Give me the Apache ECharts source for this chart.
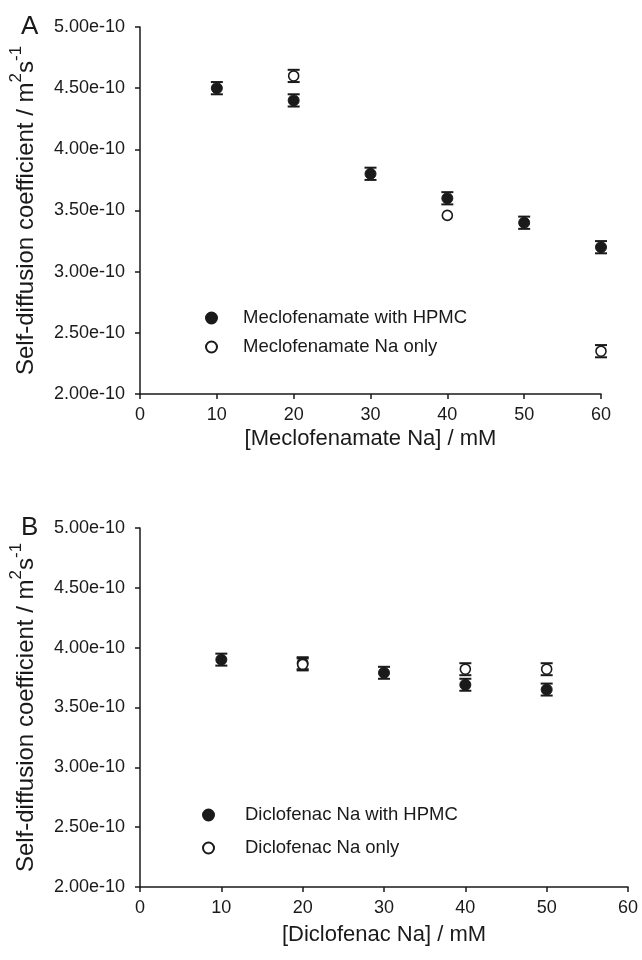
<!DOCTYPE html>
<html>
<head>
<meta charset="utf-8">
<script src="https://cdn.jsdelivr.net/npm/echarts@6/dist/echarts.min.js"></script>
<style>
html,body{margin:0;padding:0;background:#fff;}
#chart{width:642px;height:960px;}
</style>
</head>
<body>
<div id="chart"></div>
<script>
// Values in units of 1e-10 m^2 s^-1
const concA = [10, 20, 30, 40, 50, 60];
const meclofenamateHPMC = [4.50, 4.40, 3.80, 3.60, 3.40, 3.20];
const meclofenamateHPMCErr = [0.05, 0.05, 0.05, 0.05, 0.05, 0.05];
const concAOnly = [20, 40, 60];
const meclofenamateOnly = [4.60, 3.46, 2.35];
const meclofenamateOnlyErr = [0.05, 0, 0.05];

const concB = [10, 20, 30, 40, 50];
const diclofenacHPMC = [3.90, 3.87, 3.79, 3.69, 3.65];
const diclofenacHPMCErr = [0.05, 0.05, 0.05, 0.05, 0.05];
const concBOnly = [20, 40, 50];
const diclofenacOnly = [3.86, 3.82, 3.82];
const diclofenacOnlyErr = [0.05, 0.05, 0.05];

const yTicks = [2.0, 2.5, 3.0, 3.5, 4.0, 4.5, 5.0];
const xTicks = [0, 10, 20, 30, 40, 50, 60];

const FONT = '"Liberation Sans", Arial, Helvetica, sans-serif';
const INK = '#1a1a1a';

function pts(xs, ys) { return xs.map((x, i) => [x, ys[i]]); }
function errPts(xs, ys, es) { return xs.map((x, i) => [x, ys[i], es[i]]); }

function errorSeries(idx, data) {
  return {
    type: 'custom', xAxisIndex: idx, yAxisIndex: idx, silent: true, z: 2,
    data: data,
    renderItem: function (params, api) {
      const x = api.value(0), y = api.value(1), e = api.value(2);
      if (!e) return null;
      const top = api.coord([x, y + e]);
      const bot = api.coord([x, y - e]);
      const hw = 6;
      const st = { stroke: INK, lineWidth: 2 };
      return {
        type: 'group',
        children: [
          { type: 'line', shape: { x1: top[0], y1: top[1], x2: bot[0], y2: bot[1] }, style: { stroke: INK, lineWidth: 1.5 } },
          { type: 'line', shape: { x1: top[0] - hw, y1: top[1], x2: top[0] + hw, y2: top[1] }, style: st },
          { type: 'line', shape: { x1: bot[0] - hw, y1: bot[1], x2: bot[0] + hw, y2: bot[1] }, style: st }
        ]
      };
    }
  };
}

function xAxisCfg(idx, name, gap) {
  return {
    type: 'value', gridIndex: idx, min: 0, max: 60, interval: 10,
    name: name, nameLocation: 'middle', nameGap: gap,
    nameTextStyle: { fontFamily: FONT, fontSize: 22, color: INK },
    axisLine: { onZero: false, lineStyle: { color: INK, width: 1.5 } },
    axisTick: { show: true, inside: false, length: 5, lineStyle: { color: INK, width: 1.5 } },
    axisLabel: { fontFamily: FONT, fontSize: 18, color: INK, margin: 12,
      formatter: v => (xTicks.indexOf(v) >= 0 ? String(v) : '') },
    splitLine: { show: false }
  };
}

const yName = '{t|Self-diffusion coefficient / m}{s|2}{t|s}{s|-1}';
function yAxisCfg(idx) {
  return {
    type: 'value', gridIndex: idx, min: 2.0, max: 5.0, interval: 0.5,
    name: yName, nameLocation: 'middle', nameGap: 102, nameRotate: 90,
    nameTextStyle: {
      fontFamily: FONT, color: INK,
      rich: {
        t: { fontFamily: FONT, fontSize: 24, color: INK, lineHeight: 30, verticalAlign: 'bottom' },
        s: { fontFamily: FONT, fontSize: 17, color: INK, lineHeight: 30, verticalAlign: 'top' }
      }
    },
    axisLine: { onZero: false, lineStyle: { color: INK, width: 1.5 } },
    axisTick: { show: true, inside: false, length: 5, lineStyle: { color: INK, width: 1.5 } },
    axisLabel: { fontFamily: FONT, fontSize: 18, color: INK, margin: 15,
      formatter: v => v.toFixed(2) + 'e-10' },
    splitLine: { show: false }
  };
}

const filledStyle = { color: INK, borderColor: INK, borderWidth: 1, opacity: 1 };
const openStyle = { color: '#ffffff', borderColor: INK, borderWidth: 1.6, opacity: 1 };

const legendBase = {
  orient: 'vertical', itemWidth: 11, itemHeight: 11, icon: 'circle',
  selectedMode: false,
  textStyle: { fontFamily: FONT, fontSize: 18.5, color: INK, lineHeight: 20 }
};

const option = {
  animation: false,
  backgroundColor: '#ffffff',
  grid: [
    { left: 139, right: 41, top: 27, height: 367 },
    { left: 137, right: 14, top: 528, height: 359 }
  ],
  xAxis: [xAxisCfg(0, '[Meclofenamate Na] / mM', 34), xAxisCfg(1, '[Diclofenac Na] / mM', 37)],
  yAxis: [yAxisCfg(0), yAxisCfg(1)],
  legend: [
    Object.assign({}, legendBase, {
      left: 200, top: 303, itemGap: 9,
      data: ['Meclofenamate with HPMC', 'Meclofenamate Na only'],
      textStyle: Object.assign({}, legendBase.textStyle, { padding: [0, 0, 0, 21] })
    }),
    Object.assign({}, legendBase, {
      left: 197, top: 800, itemGap: 13,
      data: ['Diclofenac Na with HPMC', 'Diclofenac Na only'],
      textStyle: Object.assign({}, legendBase.textStyle, { padding: [0, 0, 0, 26] })
    })
  ],
  graphic: [
    { type: 'text', left: 21, top: 14, style: { text: 'A', font: '26px ' + FONT, fill: INK } },
    { type: 'text', left: 21, top: 515, style: { text: 'B', font: '26px ' + FONT, fill: INK } }
  ],
  series: [
    errorSeries(0, errPts(concA, meclofenamateHPMC, meclofenamateHPMCErr)),
    { name: 'Meclofenamate with HPMC', type: 'scatter', xAxisIndex: 0, yAxisIndex: 0, z: 3,
      symbol: 'circle', symbolSize: 11, itemStyle: filledStyle, data: pts(concA, meclofenamateHPMC) },
    errorSeries(0, errPts(concAOnly, meclofenamateOnly, meclofenamateOnlyErr)),
    { name: 'Meclofenamate Na only', type: 'scatter', xAxisIndex: 0, yAxisIndex: 0, z: 4,
      symbol: 'circle', symbolSize: 10, itemStyle: openStyle, data: pts(concAOnly, meclofenamateOnly) },

    errorSeries(1, errPts(concB, diclofenacHPMC, diclofenacHPMCErr)),
    { name: 'Diclofenac Na with HPMC', type: 'scatter', xAxisIndex: 1, yAxisIndex: 1, z: 3,
      symbol: 'circle', symbolSize: 11, itemStyle: filledStyle, data: pts(concB, diclofenacHPMC) },
    errorSeries(1, errPts(concBOnly, diclofenacOnly, diclofenacOnlyErr)),
    { name: 'Diclofenac Na only', type: 'scatter', xAxisIndex: 1, yAxisIndex: 1, z: 4,
      symbol: 'circle', symbolSize: 10, itemStyle: openStyle, data: pts(concBOnly, diclofenacOnly) }
  ]
};

const chart = echarts.init(document.getElementById('chart'), null, { renderer: 'canvas' });
chart.setOption(option);
</script>
</body>
</html>
